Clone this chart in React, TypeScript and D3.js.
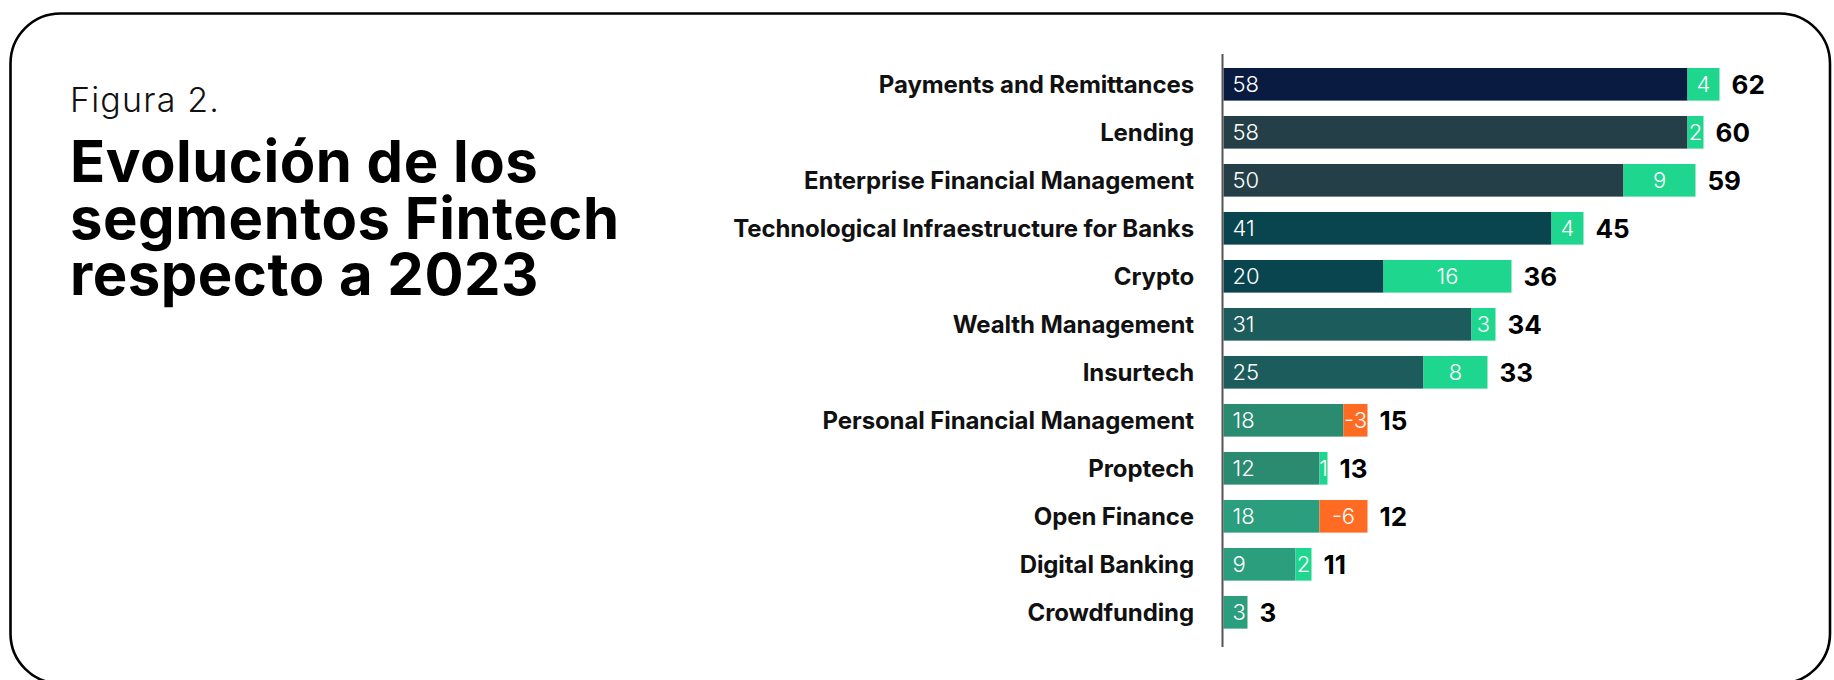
import React from "react";
import * as d3 from "d3";

const categories = [
  "Payments and Remittances",
  "Lending",
  "Enterprise Financial Management",
  "Technological Infraestructure for Banks",
  "Crypto",
  "Wealth Management",
  "Insurtech",
  "Personal Financial Management",
  "Proptech",
  "Open Finance",
  "Digital Banking",
  "Crowdfunding",
];
const values2023 = [58, 58, 50, 41, 20, 31, 25, 18, 12, 18, 9, 3];
const changes = [4, 2, 9, 4, 16, 3, 8, -3, 1, -6, 2, 0];
const totals2024 = [62, 60, 59, 45, 36, 34, 33, 15, 13, 12, 11, 3];

const figureLabel = "Figura 2.";
const titleLines = ["Evolución de los", "segmentos Fintech", "respecto a 2023"];

// styling
const baseColors = [
  "#0a1b42",
  "#243f47",
  "#243f47",
  "#08454f",
  "#08454f",
  "#1d5c5c",
  "#1d5c5c",
  "#2a8b71",
  "#2a8b71",
  "#2a9e7d",
  "#2a9e7d",
  "#2a9e7d",
];
const POS = "#1fd68e";
const NEG = "#ff6b22";
const FONT = "Inter, 'Noto Sans', sans-serif";

export default function App() {
  const W = 1834;
  const H = 680;
  const x = d3.scaleLinear().domain([0, 62]).range([1223.5, 1223.5 + 62 * 8]);
  const y = d3
    .scaleBand<string>()
    .domain(categories)
    .range([60.3, 636.3])
    .paddingInner(0.32)
    .paddingOuter(0.16);
  const bw = y.bandwidth();

  const rows = categories.map((c, i) => {
    const base = values2023[i];
    const total = totals2024[i];
    const ch = changes[i];
    const solidEnd = Math.min(base, total);
    const barEnd = Math.max(base, total);
    return { c, i, base, total, ch, solidEnd, barEnd };
  });

  return (
    <svg
      width={W}
      height={H}
      style={{ position: "absolute", left: 0, top: 0, background: "#fff" }}
      fontFamily={FONT}
    >
      <rect
        x={10.5}
        y={13.5}
        width={1819.5}
        height={670}
        rx={50}
        ry={50}
        fill="#fff"
        stroke="#000"
        strokeWidth={2.6}
      />
      <text
        x={70}
        y={112}
        fontSize={34}
        fontWeight={300}
        fill="#111"
        letterSpacing={1.2}
      >
        {figureLabel}
      </text>
      {titleLines.map((t, i) => (
        <text
          key={t}
          x={70}
          y={182 + i * 56.5}
          fontSize={58}
          fontWeight={700}
          fill="#000"
          letterSpacing={0.5}
        >
          {t}
        </text>
      ))}

      {rows.map((r) => {
        const yy = y(r.c)!;
        const cy = yy + bw / 2;
        return (
          <g key={r.c}>
            <text
              x={1194}
              y={cy}
              dy="0.36em"
              textAnchor="end"
              fontSize={24}
              fontWeight={700}
              fill="#111"
              letterSpacing={-0.1}
            >
              {r.c}
            </text>
            <rect
              x={x(0)}
              y={yy}
              width={x(r.solidEnd) - x(0)}
              height={bw}
              fill={baseColors[r.i]}
            />
            {r.ch !== 0 && (
              <rect
                x={x(r.solidEnd)}
                y={yy}
                width={x(r.barEnd) - x(r.solidEnd)}
                height={bw}
                fill={r.ch > 0 ? POS : NEG}
              />
            )}
            <text
              x={x(0) + 9}
              y={cy}
              dy="0.36em"
              fontSize={22}
              fontWeight={300}
              fill="#fff"
            >
              {r.base}
            </text>
            {r.ch !== 0 && (
              <text
                x={(x(r.solidEnd) + x(r.barEnd)) / 2}
                y={cy}
                dy="0.36em"
                textAnchor="middle"
                fontSize={22}
                fontWeight={300}
                fill="#fff"
              >
                {r.ch}
              </text>
            )}
            <text
              x={x(r.barEnd) + 12}
              y={cy}
              dy="0.37em"
              fontSize={26}
              fontWeight={700}
              fill="#000"
            >
              {r.total}
            </text>
          </g>
        );
      })}
      <line
        x1={x(0) - 1}
        x2={x(0) - 1}
        y1={54}
        y2={647}
        stroke="#555"
        strokeWidth={2}
      />
    </svg>
  );
}
